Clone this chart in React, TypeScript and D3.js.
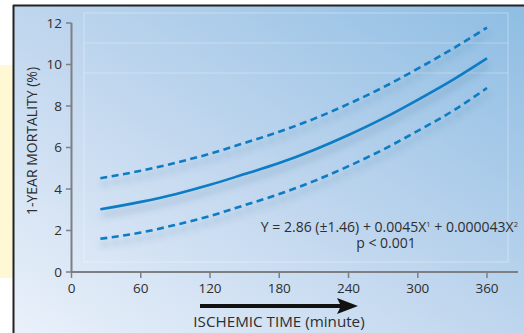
import { useEffect, useRef } from 'react'
import * as d3 from 'd3'

// ischemic time (min) and 1-year mortality (%)
const TIMES = [25, 60, 90, 120, 150, 180, 210, 240, 270, 300, 330, 360]
const FIT   = [3.02, 3.38, 3.75, 4.2, 4.72, 5.25, 5.88, 6.6, 7.4, 8.3, 9.25, 10.3]
const UPPER = [4.52, 4.88, 5.26, 5.7, 6.22, 6.76, 7.38, 8.1, 8.9, 9.8, 10.75, 11.78]
const LOWER = [1.6, 1.9, 2.27, 2.7, 3.22, 3.76, 4.38, 5.1, 5.9, 6.8, 7.75, 8.87]

const X_TICKS = [0, 60, 120, 180, 240, 300, 360]
const Y_TICKS = [0, 2, 4, 6, 8, 10, 12]

const W = 524
const H = 333
const FONT = '"Open Sans", sans-serif'
const LINE = '#0a7cc4'
const AXIS = '#7d7f83'
const INK = '#2e2e2e'

export default function App() {
  const ref = useRef<SVGSVGElement>(null)

  useEffect(() => {
    const svg = d3.select(ref.current)
    svg.selectAll('*').remove()

    const defs = svg.append('defs')
    const grad = defs.append('linearGradient')
      .attr('id', 'bg').attr('x1', '0').attr('y1', '1').attr('x2', '1').attr('y2', '0')
    grad.append('stop').attr('offset', '0%').attr('stop-color', '#eaf1fa')
    grad.append('stop').attr('offset', '45%').attr('stop-color', '#c3d8ef')
    grad.append('stop').attr('offset', '100%').attr('stop-color', '#8ebde3')

    const shadow = defs.append('filter').attr('id', 'shadow')
      .attr('x', '-10%').attr('y', '-20%').attr('width', '120%').attr('height', '160%')
    shadow.append('feDropShadow')
      .attr('dx', 1).attr('dy', 6).attr('stdDeviation', 3.5)
      .attr('flood-color', '#2b4f75').attr('flood-opacity', 0.35)

    // page frame
    svg.append('rect').attr('width', W).attr('height', H).attr('fill', '#fff')
    svg.append('rect').attr('x', 0).attr('y', 65).attr('width', 13).attr('height', 213).attr('fill', '#fff8d4')
    svg.append('rect').attr('x', 13).attr('y', 5).attr('width', W - 13).attr('height', H - 5).attr('fill', 'url(#bg)')
    svg.append('line').attr('x1', 13).attr('x2', W).attr('y1', 5.5).attr('y2', 5.5).attr('stroke', '#222').attr('stroke-width', 2)
    svg.append('line').attr('x1', 13.5).attr('x2', 13.5).attr('y1', 5).attr('y2', H).attr('stroke', '#222').attr('stroke-width', 2)

    // faint inner panel
    svg.append('rect').attr('x', 84).attr('y', 13).attr('width', 424).attr('height', 249)
      .attr('fill', 'none').attr('stroke', '#ffffff').attr('stroke-opacity', 0.35)
    ;[43, 73].forEach(yy => {
      svg.append('line').attr('x1', 84).attr('x2', 508).attr('y1', yy).attr('y2', yy)
        .attr('stroke', '#ffffff').attr('stroke-opacity', 0.3)
    })

    const x = d3.scaleLinear().domain([0, 360]).range([71.5, 487])
    const y = d3.scaleLinear().domain([0, 12]).range([272, 23])

    // axes
    const g = svg.append('g')
    g.append('line').attr('x1', 71.5).attr('x2', 71.5).attr('y1', y(12)).attr('y2', y(0))
      .attr('stroke', AXIS).attr('stroke-width', 2)
    g.append('line').attr('x1', 70.5).attr('x2', 518).attr('y1', y(0)).attr('y2', y(0))
      .attr('stroke', AXIS).attr('stroke-width', 2)

    g.selectAll('.yt').data(Y_TICKS).enter().append('line')
      .attr('x1', 66).attr('x2', 71.5).attr('y1', d => y(d)).attr('y2', d => y(d))
      .attr('stroke', AXIS).attr('stroke-width', 1.5)
    g.selectAll('.yl').data(Y_TICKS).enter().append('text')
      .attr('x', 62).attr('y', d => y(d) + 4.5).attr('text-anchor', 'end')
      .attr('font-family', FONT).attr('font-size', 13.5).attr('fill', INK)
      .text(d => d)

    g.selectAll('.xt').data(X_TICKS).enter().append('line')
      .attr('x1', d => x(d)).attr('x2', d => x(d)).attr('y1', y(0)).attr('y2', y(0) + 6)
      .attr('stroke', AXIS).attr('stroke-width', 1.5)
    g.selectAll('.xl').data(X_TICKS).enter().append('text')
      .attr('x', d => x(d)).attr('y', 293).attr('text-anchor', 'middle')
      .attr('font-family', FONT).attr('font-size', 13.5).attr('fill', INK)
      .text(d => d)

    // axis titles
    svg.append('text')
      .attr('transform', 'translate(37,141) rotate(-90)')
      .attr('text-anchor', 'middle')
      .attr('font-family', FONT).attr('font-size', 14).attr('fill', INK)
      .text('1-YEAR MORTALITY (%)')

    svg.append('text')
      .attr('x', 279).attr('y', 327).attr('text-anchor', 'middle')
      .attr('font-family', FONT).attr('font-size', 15.2).attr('fill', INK)
      .text('ISCHEMIC TIME (minute)')

    svg.append('line').attr('x1', 200).attr('x2', 342).attr('y1', 306).attr('y2', 306)
      .attr('stroke', '#111').attr('stroke-width', 4)
    svg.append('path').attr('d', 'M337,298 L358,306 L337,314 L341,306 Z').attr('fill', '#111')

    // curves
    const line = d3.line<number>()
      .x((_, i) => x(TIMES[i]))
      .y(d => y(d))
      .curve(d3.curveMonotoneX)

    const curves = svg.append('g').attr('filter', 'url(#shadow)')
    curves.append('path').attr('d', line(UPPER)).attr('fill', 'none')
      .attr('stroke', LINE).attr('stroke-width', 2.6).attr('stroke-dasharray', '7,4.5')
    curves.append('path').attr('d', line(LOWER)).attr('fill', 'none')
      .attr('stroke', LINE).attr('stroke-width', 2.6).attr('stroke-dasharray', '7,4.5')
    curves.append('path').attr('d', line(FIT)).attr('fill', 'none')
      .attr('stroke', LINE).attr('stroke-width', 2.6)

    // equation
    const eq = svg.append('text')
      .attr('x', 518).attr('y', 232).attr('text-anchor', 'end')
      .attr('font-family', FONT).attr('font-size', 14).attr('fill', INK)
    eq.append('tspan').text('Y = 2.86 (±1.46) + 0.0045X')
    eq.append('tspan').attr('font-size', 7.5).attr('dy', -5).text('1')
    eq.append('tspan').attr('dy', 5).text(' + 0.000043X')
    eq.append('tspan').attr('font-size', 7.5).attr('dy', -5).text('2')

    svg.append('text')
      .attr('x', 386).attr('y', 248).attr('text-anchor', 'middle')
      .attr('font-family', FONT).attr('font-size', 14).attr('fill', INK)
      .text('p < 0.001')
  }, [])

  return (
    <svg ref={ref} width={W} height={H}
      style={{ position: 'absolute', left: 0, top: 0, display: 'block' }} />
  )
}
